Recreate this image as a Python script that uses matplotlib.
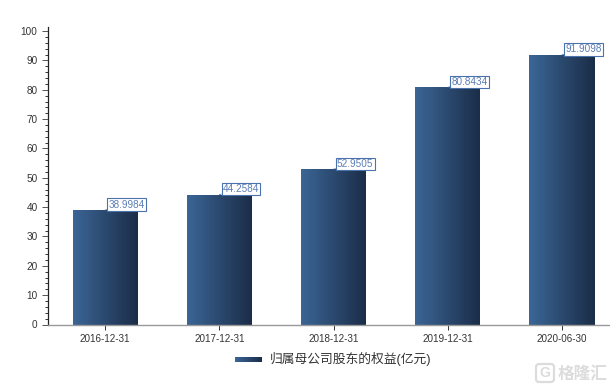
import numpy as np
import matplotlib
matplotlib.use("Agg")
import matplotlib.pyplot as plt
from matplotlib.colors import LinearSegmentedColormap
from matplotlib.patches import FancyBboxPatch

plt.rcParams['font.family'] = ['Liberation Sans', 'Noto Sans CJK SC', 'DejaVu Sans']

dates = ["2016-12-31", "2017-12-31", "2018-12-31", "2019-12-31", "2020-06-30"]
equity = [38.9984, 44.2584, 52.9505, 80.8434, 91.9098]
series_name = "归属母公司股东的权益(亿元)"

W, H = 610, 391
fig = plt.figure(figsize=(W / 100, H / 100), dpi=100)
# axes placed in pixels: left spine x=48, zero line y=324.5, top of the axis y=27
ax = fig.add_axes([48 / W, (H - 324.5) / H, (W - 48) / W, (324.5 - 27) / H])

cmap = LinearSegmentedColormap.from_list("bar", ["#3a6595", "#1b2d48"])
grad = np.linspace(0, 1, 64).reshape(1, -1)

for i, v in enumerate(equity):
    b = ax.bar(i, v, width=0.57, color="none", edgecolor="none")[0]
    x0, w = b.get_x(), b.get_width()
    ax.pcolormesh(np.linspace(x0, x0 + w, 65), [0, v], grad, cmap=cmap, zorder=2, rasterized=True)
    # value tag sits just above the bar top, with a small pointer
    ax.annotate(f"{v:.4f}", xy=(x0 + w * 0.5, v), xytext=(2.5, 0.3), textcoords="offset points",
                fontsize=7.2, color="#5b7db5", va="bottom", ha="left", zorder=5,
                bbox=dict(boxstyle="square,pad=0.12", fc="white", ec="#4a72ad", lw=0.8),
                arrowprops=dict(arrowstyle="-", color="#4a72ad", lw=0.6, shrinkA=0, shrinkB=0))
ax.set_xlim(-0.5, 4.42)
ax.set_ylim(0, 101.4)

ax.spines["top"].set_visible(False)
ax.spines["right"].set_visible(False)
ax.spines["left"].set_color("#222222")
ax.spines["left"].set_linewidth(0.9)
ax.spines["bottom"].set_color("#999999")
ax.spines["bottom"].set_linewidth(1.0)

ax.set_xticks(range(len(dates)))
ax.set_xticklabels(dates, fontsize=7.1, color="#333333")
ax.set_yticks(range(0, 101, 10))
ax.set_yticks(range(0, 101, 2), minor=True)
ax.tick_params(axis="y", which="major", length=4.5, width=0.7, color="#555555", labelsize=7.2,
               labelcolor="#333333", pad=3)
ax.tick_params(axis="y", which="minor", length=2.2, width=0.7, color="#333333")
ax.tick_params(axis="x", which="major", length=3.5, width=0.7, color="#333333", pad=3.5)

# legend drawn by hand because of the gradient swatch
lax = fig.add_axes([235 / W, (H - 362.5) / H, 27 / W, 6 / H])
lax.imshow(grad, cmap=cmap, aspect="auto")
lax.axis("off")
fig.text(270 / W, (H - 359) / H, series_name, fontsize=9.2, color="#333333", va="center", ha="left")

# watermark, overlay axes in pixel coordinates
wax = fig.add_axes([0, 0, 1, 1], facecolor="none")
wax.set_xlim(0, W)
wax.set_ylim(H, 0)
wax.axis("off")
wax.add_patch(FancyBboxPatch((536, 364), 18, 18, boxstyle="round,pad=0,rounding_size=3",
                             fill=False, ec="#dcdcdc", lw=1.6))
wax.text(545, 373, "G", fontsize=10, color="#dcdcdc", va="center", ha="center", weight="bold")
wax.text(558, 374, "格隆汇", fontsize=12, color="#dcdcdc", va="center", ha="left", weight="bold")

fig.savefig("out.png", dpi=100)
